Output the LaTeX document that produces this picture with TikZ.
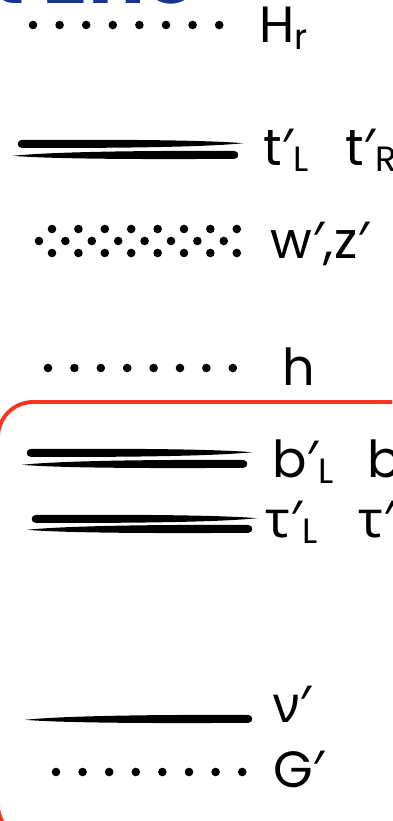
\documentclass[tikz,border=0pt]{standalone}
\usepackage{fontspec}
\setmainfont{Poppins}
\newfontfamily\symfont{Noto Sans}
\definecolor{boxred}{RGB}{250,52,30}
\definecolor{titleblue}{RGB}{22,52,145}
% brush strokes: round end on one side, sharp tip on the other
\newcommand{\brushtipright}[3]{%
  \fill ({#1+3.5},{#3-4}) .. controls ({#1+120},{#3-4.8}) and ({#2-30},{#3-3.4}) .. (#2,{#3-0.8})
    .. controls ({#2-30},{#3+2.4}) and ({#1+120},{#3+4.4}) .. ({#1+3.5},{#3+3.8})
    .. controls ({#1-1.5},{#3+3.6}) and ({#1-1.5},{#3-3.8}) .. cycle;}
\newcommand{\brushtipleft}[3]{%
  \fill ({#2-3.5},{#3-4}) .. controls ({#2-120},{#3-4.6}) and ({#1+30},{#3-2.4}) .. (#1,{#3+0.8})
    .. controls ({#1+30},{#3+3.4}) and ({#2-120},{#3+4.6}) .. ({#2-3.5},{#3+3.8})
    .. controls ({#2+1.5},{#3+3.6}) and ({#2+1.5},{#3-3.8}) .. cycle;}
\newcommand{\lowidx}[1]{\raisebox{-0.12em}{\fontsize{20}{20}\selectfont #1}}
\newcommand{\prm}{{\symfont ′}}
\tikzset{
  lbl/.style={anchor=base west, inner sep=0pt, font=\fontsize{29}{29}\selectfont},
  dot/.style={fill=black}
}
\begin{document}
\begin{tikzpicture}[x=0.02cm,y=-0.02cm]
\useasboundingbox (0,0) rectangle (392,821);
\clip (0,0) rectangle (392,821);

\node[anchor=base west, inner sep=0pt, text=titleblue, font=\fontsize{48}{48}\bfseries\selectfont] (title) at (-10,4) {t Eno};

\draw[boxred, line width=2.2pt, rounded corners=20] (-2,402) rectangle (430,840);

% H_r
\foreach \x in {0,...,7} \fill[dot] ({33+26.6*\x},25) circle (4.3);
\node[lbl] (hr) at (259,43) {H\lowidx{r}};

% t'
\brushtipright{18}{243}{144}
\brushtipleft{13}{238}{155}
\node[lbl] (tl) at (263,165) {t\prm\lowidx{L}};
\node[lbl] (tr) at (345,165) {t\prm\lowidx{R}};

% w', z'
\foreach \x in {0,...,7} {
  \fill[dot] ({39+26.4*\x},241) circle (4.3);
  \fill[dot] ({52+26.4*\x},229) circle (4.3);
  \fill[dot] ({52+26.4*\x},253) circle (4.3);
}
\node[lbl] (wz) at (270,258) {w\prm,z\prm};

% h
\foreach \x in {0,...,7} \fill[dot] ({48+26.4*\x},368) circle (4.3);
\node[lbl] (h) at (282,385) {h};

% b'
\brushtipright{27}{252}{453}
\brushtipleft{22}{247}{464}
\node[lbl] (bl) at (272,477) {b\prm\lowidx{L}};
\node[lbl] (br) at (367,477) {b\prm\lowidx{R}};

% tau'
\brushtipright{32}{257}{519}
\brushtipleft{27}{252}{529}
\node[lbl] (taul) at (265,537) {{\symfont τ}\prm\lowidx{L}};
\node[lbl] (taur) at (358,537) {{\symfont τ}\prm\lowidx{R}};

% nu'
\brushtipleft{25}{252}{719}
\node[lbl] (nu) at (273,722) {{\symfont ν}\prm};

% G'
\foreach \x in {0,...,7} \fill[dot] ({56+26.6*\x},772) circle (4.3);
\node[lbl] (g) at (273,787) {G\prm};
\end{tikzpicture}
\end{document}
